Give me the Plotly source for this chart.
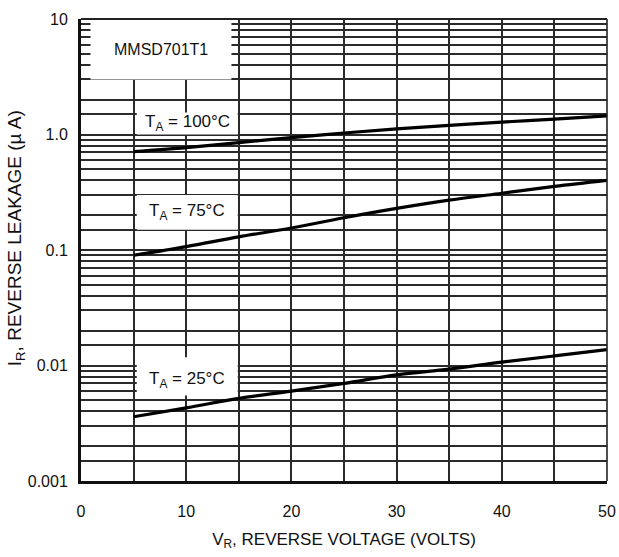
import math
import plotly.graph_objects as go

# ---- data ----
voltage = [5, 10, 15, 20, 25, 30, 35, 40, 45, 50]
leak_100C = [0.71, 0.77, 0.85, 0.94, 1.03, 1.12, 1.20, 1.28, 1.36, 1.45]
leak_75C = [0.090, 0.107, 0.130, 0.155, 0.190, 0.229, 0.270, 0.310, 0.355, 0.400]
leak_25C = [0.0036, 0.0043, 0.0052, 0.0060, 0.0070, 0.0083, 0.0093, 0.0107, 0.0121, 0.0137]

x_tick_vals = [0, 5, 10, 15, 20, 25, 30, 35, 40, 45, 50]
x_tick_text = ["0", "", "10", "", "20", "", "30", "", "40", "", "50"]

decades = [0.001, 0.01, 0.1, 1.0]
mantissas = [1, 1.5, 2, 3, 4, 5, 6, 7, 8, 9]
decade_labels = {0.001: "0.001", 0.01: "0.01", 0.1: "0.1", 1.0: "1.0", 10.0: "10"}

device_label = "MMSD701T1"
curve_labels = ["T<sub>A</sub> = 100°C", "T<sub>A</sub> = 75°C", "T<sub>A</sub> = 25°C"]
label_y = [1.25, 0.212, 0.0075]
label_box_y = [(1.0, 1.55), (0.15, 0.30), (0.0055, 0.0118)]

FONT = "Liberation Sans, Arial, sans-serif"

y_tick_vals = []
y_tick_text = []
for d in decades:
    for m in mantissas:
        v = round(d * m, 6)
        y_tick_vals.append(v)
        y_tick_text.append(decade_labels.get(v, ""))
y_tick_vals.append(10.0)
y_tick_text.append("10")

fig = go.Figure()
for series in [leak_100C, leak_75C, leak_25C]:
    fig.add_trace(go.Scatter(x=voltage, y=series, mode="lines",
                             line=dict(color="black", width=3.2, shape="spline"),
                             showlegend=False, hoverinfo="skip"))

shapes = []
shapes.append(dict(type="rect", xref="x", yref="y", x0=0.9, x1=14.3, y0=3.0, y1=9.9,
                   fillcolor="white", line=dict(width=0), layer="between"))
for (y0, y1) in label_box_y:
    shapes.append(dict(type="rect", xref="x", yref="y", x0=5.3, x1=14.9, y0=y0, y1=y1,
                       fillcolor="white", line=dict(width=0), layer="between"))
shapes.append(dict(type="line", xref="paper", yref="paper", x0=0, x1=1, y0=1, y1=1,
                   line=dict(color="#222", width=2)))
shapes.append(dict(type="line", xref="paper", yref="paper", x0=1, x1=1, y0=0, y1=1,
                   line=dict(color="#222", width=1.6)))

annotations = [dict(x=7.6, y=math.log10(5.4), xref="x", yref="y", text=device_label,
                    showarrow=False, font=dict(family=FONT, size=16, color="#111"),
                    yanchor="middle")]
for txt, yy in zip(curve_labels, label_y):
    annotations.append(dict(x=10.1, y=math.log10(yy), xref="x", yref="y", text=txt,
                            showarrow=False, font=dict(family=FONT, size=17, color="#111"),
                            yanchor="middle"))
annotations.append(dict(x=-0.122, y=0.525, xref="paper", yref="paper",
                        text="I<sub>R</sub>, REVERSE LEAKAGE (µ A)", textangle=-90,
                        showarrow=False, font=dict(family=FONT, size=19, color="#111"),
                        xanchor="center", yanchor="middle"))

fig.update_layout(
    width=619, height=557,
    margin=dict(l=81, r=12, t=19, b=76),
    paper_bgcolor="white", plot_bgcolor="white",
    shapes=shapes, annotations=annotations,
    font=dict(family=FONT, color="#111"),
)
fig.update_xaxes(range=[0, 50], tickvals=x_tick_vals, ticktext=x_tick_text,
                 showgrid=True, gridcolor="#2a2a2a", gridwidth=1.6,
                 showline=True, linecolor="#111", linewidth=3,
                 ticks="outside", ticklen=14, tickcolor="white",
                 tickfont=dict(family=FONT, size=16, color="#111"),
                 zeroline=False, automargin=False,
                 title=dict(text="V<sub>R</sub>, REVERSE VOLTAGE (VOLTS)",
                            font=dict(family=FONT, size=17, color="#111"), standoff=14))
fig.update_yaxes(type="log", range=[-3, 1], tickvals=y_tick_vals, ticktext=y_tick_text,
                 showgrid=True, gridcolor="#2a2a2a", gridwidth=1.6,
                 showline=True, linecolor="#111", linewidth=3,
                 ticks="outside", ticklen=7, tickcolor="white",
                 tickfont=dict(family=FONT, size=16, color="#111"),
                 zeroline=False, automargin=False)

fig.write_html("out.html", config={"displayModeBar": False},
               post_script="document.body.style.margin='0';document.body.style.overflow='hidden';")
